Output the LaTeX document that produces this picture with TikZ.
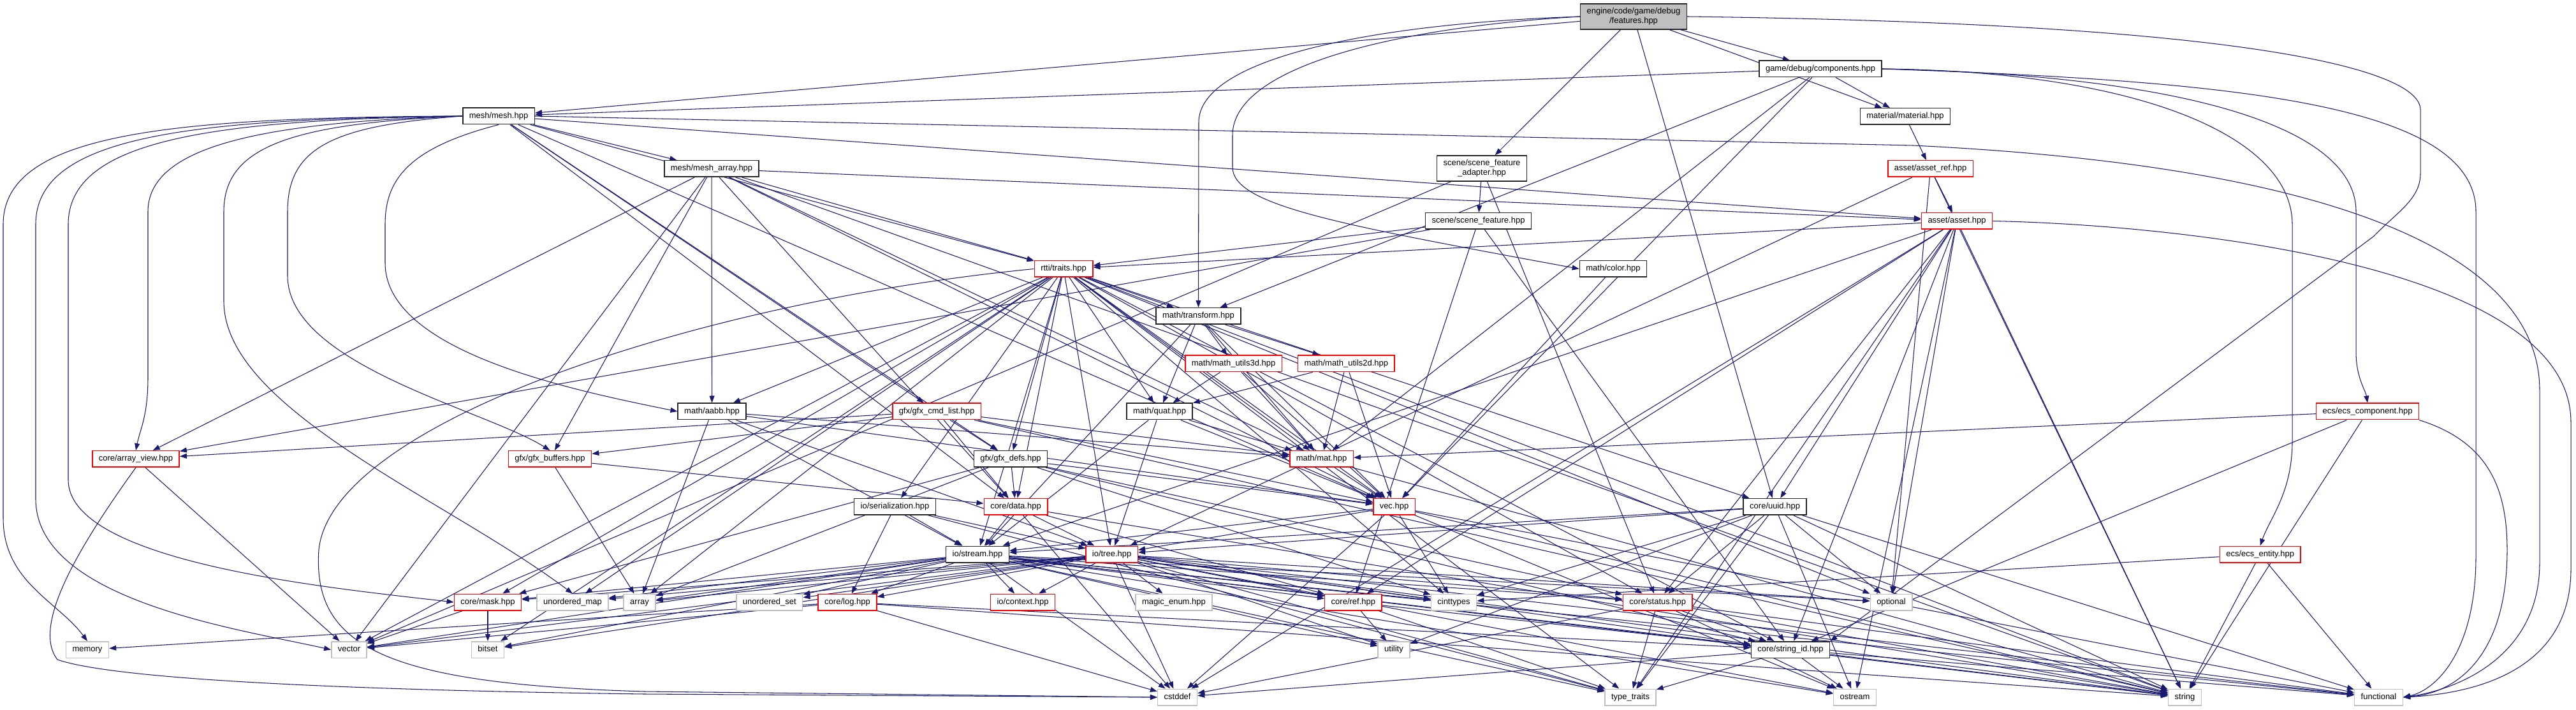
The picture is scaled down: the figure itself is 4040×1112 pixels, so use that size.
\documentclass[tikz,border=0pt]{standalone}
\usepackage{fontspec}
\setmainfont{Liberation Sans}
\usetikzlibrary{arrows.meta}
\pgfdeclarelayer{bgfill}
\pgfdeclarelayer{bg}
\pgfsetlayers{bgfill,bg,main}
\definecolor{edgec}{HTML}{191970}
\definecolor{gfill}{HTML}{BFBFBF}
\definecolor{sysb}{HTML}{BFBFBF}
\definecolor{redb}{HTML}{FF0000}
\begin{document}
\begin{tikzpicture}[x=1pt,y=1pt,
  nd/.style={draw=black!85, line width=1.5pt, fill=white, font=\fontsize{13}{15}\selectfont,
    inner xsep=10pt, inner ysep=2pt, minimum height=25.5pt, text height=9.4pt, text depth=2.8pt},
  rn/.style={nd, draw=redb},
  sn/.style={nd, draw=sysb},
  tn/.style={draw=black!85, line width=1.5pt, fill=white, font=\fontsize{13}{15}\selectfont,
    inner xsep=10pt, align=center, minimum height=40pt},
  fn/.style={tn, fill=gfill},
  e/.style={draw=edgec, line width=1.05pt, -{Triangle[length=11pt,width=8pt]}}]
\useasboundingbox (0,0) rectangle (4040,1112);
\begin{pgfonlayer}{bgfill}
\fill[white] (0,0) rectangle (4040,1112);
\end{pgfonlayer}
% nodes
\node[fn] (feat) at (2562,1086) {engine/code/game/debug\\/features.hpp};
\node[nd] (comp) at (2855,1004) {game/debug/components.hpp};
\node[nd] (mesh) at (782,930) {mesh/mesh.hpp};
\node[nd] (material) at (2988,929.5) {material/material.hpp};
\node[nd] (marr) at (1116,847.5) {mesh/mesh\_array.hpp};
\node[tn] (sfa) at (2324,848) {scene/scene\_feature\\\_adapter.hpp};
\node[rn] (aref) at (3027.5,847.5) {asset/asset\_ref.hpp};
\node[nd] (sf) at (2318.5,765.5) {scene/scene\_feature.hpp};
\node[rn] (asset) at (3069,765.5) {asset/asset.hpp};
\node[rn] (traits) at (1668,690.5) {rtti/traits.hpp};
\node[nd] (color) at (2530,690.5) {math/color.hpp};
\node[nd] (transform) at (1879.5,616.5) {math/transform.hpp};
\node[rn] (mu3) at (1934.6,542) {math/math\_utils3d.hpp};
\node[rn] (mu2) at (2111.4,542) {math/math\_utils2d.hpp};
\node[nd] (aabb) at (1116.6,467) {math/aabb.hpp};
\node[rn] (cmdl) at (1469,467) {gfx/gfx\_cmd\_list.hpp};
\node[nd] (quat) at (1818.6,467) {math/quat.hpp};
\node[rn] (ecsc) at (3713,467) {ecs/ecs\_component.hpp};
\node[rn] (aview) at (213,392.5) {core/array\_view.hpp};
\node[rn] (gbuf) at (862.5,392.5) {gfx/gfx\_buffers.hpp};
\node[nd] (gdefs) at (1585,392.5) {gfx/gfx\_defs.hpp};
\node[rn] (mmat) at (2072.5,392.5) {math/mat.hpp};
\node[rn] (data) at (1593,317.7) {core/data.hpp};
\node[rn] (vec) at (2186.5,317.7) {vec.hpp};
\node[nd] (ser) at (1403.5,317.7) {io/serialization.hpp};
\node[nd] (uuid) at (2783.6,317.7) {core/uuid.hpp};
\node[nd] (stream) at (1533,243) {io/stream.hpp};
\node[rn] (tree) at (1743.6,243) {io/tree.hpp};
\node[rn] (ecse) at (3544.6,243) {ecs/ecs\_entity.hpp};
\node[rn] (mask) at (765,168) {core/mask.hpp};
\node[sn] (umap) at (898,168) {unordered\_map};
\node[sn] (array) at (1003,168) {array};
\node[sn] (uset) at (1206.8,168) {unordered\_set};
\node[rn] (log) at (1329,168) {core/log.hpp};
\node[rn] (ctx) at (1604,168) {io/context.hpp};
\node[sn] (menum) at (1841,168) {magic\_enum.hpp};
\node[rn] (ref) at (2122.4,168) {core/ref.hpp};
\node[sn] (cint) at (2280,168) {cinttypes};
\node[rn] (status) at (2599.7,168) {core/status.hpp};
\node[sn] (opt) at (2966,168) {optional};
\node[sn] (memory) at (137,93.5) {memory};
\node[sn] (vector) at (547.5,93.5) {vector};
\node[sn] (bitset) at (765,93.5) {bitset};
\node[sn] (utility) at (2186,93.5) {utility};
\node[nd] (sid) at (2808,93.5) {core/string\_id.hpp};
\node[sn] (cstddef) at (1846.6,19) {cstddef};
\node[sn] (ttraits) at (2557,19) {type\_traits};
\node[sn] (ostream) at (2909,19) {ostream};
\node[sn] (string) at (3426.5,19) {string};
\node[sn] (functional) at (3730.5,19) {functional};
% edges
\begin{pgfonlayer}{bg}
\foreach \t in {comp,material,sfa,uuid,mesh} \draw[e] (feat) -- (\t);
\draw[e] (feat.west) .. controls (2150,1075) and (1880,1020) .. (1880,920) -- (transform.north);
\draw[e] (feat.west) .. controls (2200,1070) and (1933,1010) .. (1933,900) -- (1933,850) .. controls (1933,790) and (2100,760) .. (color.west);
\draw[e] (feat.east) .. controls (3550,1075) and (3796,1000) .. (3796,940) -- (3796,840) .. controls (3796,800) and (3760,780) .. (3722,741) -- (sid.north east);
\foreach \t in {mesh,material,transform,mmat,vec} \draw[e] (comp) -- (\t);
\draw[e] (comp.east) .. controls (3350,1000) and (3595,900) .. (3595,760) -- (3595,420) .. controls (3595,340) and (3560,300) .. (ecse.north);
\draw[e] (comp.east) .. controls (3400,995) and (3695,920) .. (3695,780) -- (3695,560) .. controls (3695,520) and (3710,500) .. (ecsc.north);
\draw[e] (comp.east) .. controls (3500,985) and (3883,950) .. (3883,780) -- (3883,240) .. controls (3883,90) and (3820,30) .. (functional.east);
\foreach \t in {marr,traits,asset,vec,cmdl,gdefs,data} \draw[e] (mesh) -- (\t);
\draw[e] (mesh.west) .. controls (250,928) and (5,900) .. (5,760) -- (5,300) .. controls (5,200) and (90,170) .. (memory.north);
\draw[e] (mesh.west) .. controls (280,926) and (56,895) .. (56,760) -- (56,330) .. controls (56,170) and (380,125) .. (vector.west);
\draw[e] (mesh.west) .. controls (320,924) and (107,890) .. (107,760) -- (107,360) .. controls (107,230) and (520,190) .. (mask.west);
\draw[e] (mesh.west) .. controls (400,920) and (232,880) .. (232,780) -- (232,520) .. controls (232,460) and (220,440) .. (aview.north);
\draw[e] (mesh.west) .. controls (450,918) and (351,880) .. (351,780) -- (351,640) .. controls (351,470) and (700,330) .. (umap.north);
\draw[e] (mesh.west) .. controls (520,915) and (451,880) .. (451,780) -- (451,680) .. controls (451,540) and (760,470) .. (gbuf.north);
\draw[e] (mesh.south) .. controls (640,880) and (604,830) .. (604,760) -- (604,700) .. controls (604,560) and (900,500) .. (aabb.west);
\draw[e] (mesh.east) -- (3000,884) .. controls (3700,850) and (3983,700) .. (3983,500) -- (3983,230) .. controls (3983,80) and (3850,30) .. (functional.east);
\foreach \t in {traits,asset,aview,vector,aabb,gbuf,data,vec,mmat,string} \draw[e] (marr) -- (\t);
\foreach \t in {sf,vector,status} \draw[e] (sfa) -- (\t);
\foreach \t in {traits,aview,sid,ref} \draw[e] (sf) -- (\t);
\foreach \t in {asset,tree,opt,string} \draw[e] (aref) -- (\t);
\foreach \t in {traits,uuid,status,ref,sid,opt,string,ttraits,ostream,stream,cstddef} \draw[e] (asset) -- (\t);
\draw[e] (asset.east) .. controls (3400,760) and (4032,700) .. (4032,450) -- (4032,220) .. controls (4032,60) and (3880,25) .. (functional.east);
\draw[e] (material) -- (aref);
\foreach \t in {transform,aabb,quat,mmat,vec,data,stream,tree,ser,mask,array,vector,bitset,umap,uuid,status,sid,cint,opt,ttraits,string,gdefs} \draw[e] (traits) -- (\t);
\draw[e] (traits.west) .. controls (1100,640) and (520,450) .. (500,250) .. controls (490,100) and (600,40) .. (1010,28) -- (cstddef.west);
\foreach \t in {quat,mu3,mu2,mmat,vec,stream} \draw[e] (transform) -- (\t);
\foreach \t in {quat,mmat,vec} \draw[e] (mu3) -- (\t);
\foreach \t in {quat,mmat,vec} \draw[e] (mu2) -- (\t);
\foreach \t in {mmat,vec,stream,tree} \draw[e] (quat) -- (\t);
\foreach \t in {vec,mmat,stream,tree,array} \draw[e] (aabb) -- (\t);
\draw[e] (color) -- (vec);
\foreach \t in {gdefs,gbuf,aview,data,vec,mmat,string} \draw[e] (cmdl) -- (\t);
\foreach \t in {data,array} \draw[e] (gbuf) -- (\t);
\foreach \t in {data,mask,array,vec,sid,cint,status} \draw[e] (gdefs) -- (\t);
\foreach \t in {vec,string} \draw[e] (mmat) -- (\t);
\foreach \t in {stream,tree,string,functional,cstddef,cint,ostream} \draw[e] (vec) -- (\t);
\foreach \t in {stream,tree,ref,cstddef,string} \draw[e] (data) -- (\t);
\foreach \t in {stream,tree,log,ttraits} \draw[e] (ser) -- (\t);
\foreach \t in {mask,umap,array,uset,log,ctx,ref,cint,status,opt,vector,bitset,utility,sid,cstddef,ttraits,string,ostream,functional} \draw[e] (stream) -- (\t);
\foreach \t in {mask,umap,array,uset,log,ctx,menum,ref,cint,status,opt,vector,bitset,utility,sid,cstddef,ttraits,string,ostream,functional} \draw[e] (tree) -- (\t);
\foreach \t in {stream,tree,cint,status,opt,string,ttraits,ostream,functional,utility} \draw[e] (uuid) -- (\t);
\foreach \t in {mmat,sid,string} \draw[e] (ecsc) -- (\t);
\draw[e] (ecsc.south east) .. controls (3900,420) and (3932,350) .. (3932,250) .. controls (3932,80) and (3850,25) .. (functional.east);
\foreach \t in {cint,string,functional} \draw[e] (ecse) -- (\t);
\foreach \t in {sid,ttraits,ostream,string,functional,cstddef} \draw[e] (status) -- (\t);
\foreach \t in {ttraits,ostream,string,functional,cstddef} \draw[e] (sid) -- (\t);
\foreach \t in {utility,ttraits,sid} \draw[e] (ref) -- (\t);
\foreach \t in {memory,vector,cstddef,sid,string} \draw[e] (log) -- (\t);
\foreach \t in {vector,bitset} \draw[e] (mask) -- (\t);
\draw[e] (aview) -- (vector);
\draw[e] (aview.south) .. controls (120,250) and (50,130) .. (90,78) .. controls (200,40) and (700,28) .. (1010,24) -- (cstddef.west);
\end{pgfonlayer}
\end{tikzpicture}
\end{document}
